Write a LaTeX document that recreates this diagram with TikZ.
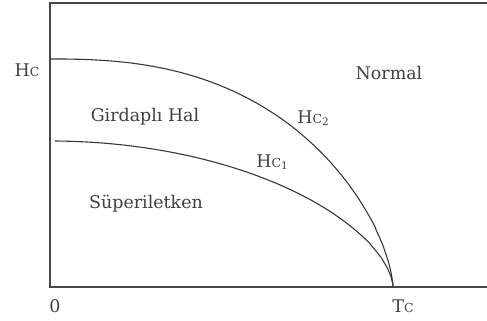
\documentclass[tikz,border=0pt]{standalone}
\usepackage{fontspec}
\setmainfont{DejaVu Serif}
\usetikzlibrary{positioning}

\newcommand{\smc}{\fontsize{12.5}{12.5}\selectfont C}
\newcommand{\ind}[1]{\raisebox{-2bp}{\fontsize{10.5}{10.5}\selectfont #1}}

\begin{document}
\begin{tikzpicture}[x=1bp,y=-1bp,font=\fontsize{17.5}{19}\selectfont]
\tikzstyle{frame}=[draw=black!72,line width=1.1pt]
\tikzstyle{curve}=[draw=black!78,line width=1.1pt,line join=round]
\tikzstyle{lbl}=[text=black!75,inner sep=0pt]
\useasboundingbox (0,0) rectangle (487,320);
% axes
\draw[frame] (487,3) -- (50,3) -- (50,287) -- (487,287);
% phase boundaries
\draw[curve] plot[domain=0.0001:0.99999,samples=250] ({50+343*\x},{287-228*(1-\x^2.5)^0.65}) -- (393,287);
\draw[curve] plot[domain=0.015:0.99999,samples=250] ({50+343*\x},{287-146*(1-\x^2)^0.6}) -- (393,287);
% labels
\node[lbl] (hc) at (27,70) {H\smc};
\node[lbl] (zero) at (55,306) {0};
\node[lbl] (tc) at (403,306) {T\smc};
\node[lbl] (normal) at (389,73) {Normal};
\node[lbl] (girdap) at (145,117) {Girdaplı Hal};
\node[lbl] (super) at (146,204) {Süperiletken};
\node[lbl] (hc2) at (313,118) {H\smc\ind{2}};
\node[lbl] (hc1) at (272,162) {H\smc\ind{1}};
\end{tikzpicture}
\end{document}
